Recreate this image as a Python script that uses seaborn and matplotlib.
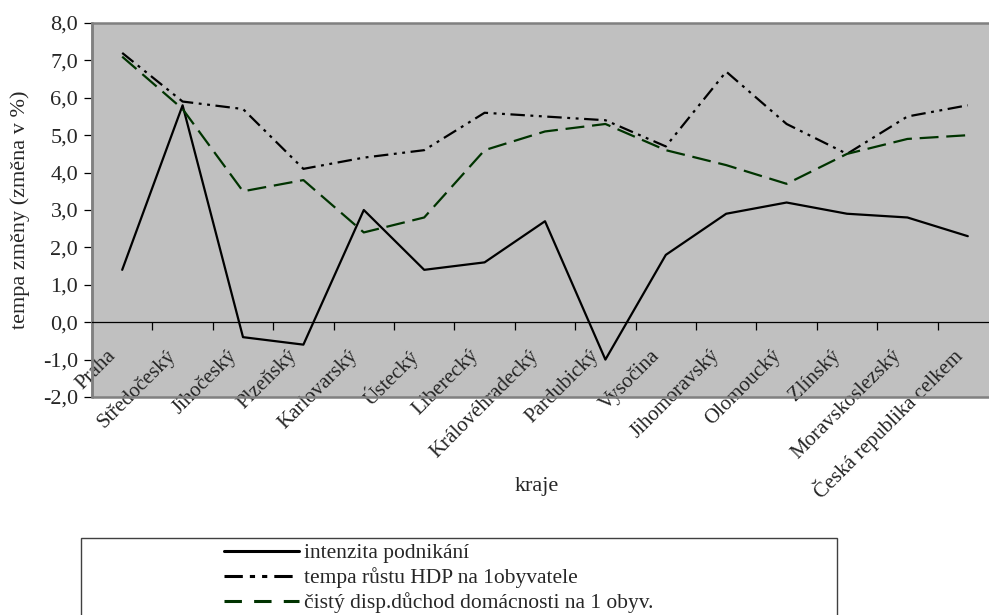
import matplotlib
matplotlib.use("Agg")
import matplotlib.pyplot as plt
from matplotlib.lines import Line2D
from matplotlib.patches import Rectangle
from matplotlib.transforms import ScaledTranslation
from matplotlib.ticker import FixedLocator, FuncFormatter
import numpy as np
import pandas as pd
import seaborn as sns

kraje = ["Praha", "Středočeský", "Jihočeský", "Plzeňský", "Karlovarský",
         "Ústecký", "Liberecký", "Královéhradecký", "Pardubický", "Vysočina",
         "Jihomoravský", "Olomoucký", "Zlínský", "Moravskoslezský",
         "Česká republika celkem"]

intenzita = [1.4, 5.8, -0.4, -0.6, 3.0, 1.4, 1.6, 2.7, -1.0, 1.8,
             2.9, 3.2, 2.9, 2.8, 2.3]
hdp = [7.2, 5.9, 5.7, 4.1, 4.4, 4.6, 5.6, 5.5, 5.4, 4.7,
       6.7, 5.3, 4.5, 5.5, 5.8]
duchod = [7.1, 5.7, 3.5, 3.8, 2.4, 2.8, 4.6, 5.1, 5.3, 4.6,
          4.2, 3.7, 4.5, 4.9, 5.0]

series_names = ["intenzita podnikání",
                "tempa růstu HDP na 1obyvatele",
                "čistý disp.důchod domácnosti na 1 obyv."]

y_ticks = [-2, -1, 0, 1, 2, 3, 4, 5, 6, 7, 8]

FS = 16
FS_X = 15
FS_LEG = 15.5

sns.set_style("ticks")
plt.rcParams["font.family"] = ["Liberation Serif", "DejaVu Serif"]
plt.rcParams["font.size"] = FS

df = pd.DataFrame({
    "kraj": np.tile(np.arange(len(kraje)), 3),
    "hodnota": intenzita + hdp + duchod,
    "ukazatel": np.repeat(series_names, len(kraje)),
})

W, H = 989, 615
fig = plt.figure(figsize=(W / 100, H / 100), dpi=100)
x0, x1, y0, y1 = 92, 998, 23, 397
ax = fig.add_axes([x0 / W, 1 - y1 / H, (x1 - x0) / W, (y1 - y0) / H])
ax.set_facecolor("#c0c0c0")

palette = {series_names[0]: "black", series_names[1]: "black",
           series_names[2]: "#003300"}
dashes = {series_names[0]: "",
          series_names[1]: (6.5, 2.5, 1.3, 2.5, 1.3, 2.5),
          series_names[2]: (8.5, 3.5)}

sns.lineplot(data=df, x="kraj", y="hodnota", hue="ukazatel", style="ukazatel",
             palette=palette, dashes=dashes, linewidth=1.6, legend=False,
             ax=ax, sort=False)

ax.set_xlim(-0.5, len(kraje) - 0.5)
ax.set_ylim(-2, 8)

# frame around the plotting area
for side in ("top", "right"):
    ax.spines[side].set_visible(False)
ax.spines["left"].set_color("#808080")
ax.spines["left"].set_linewidth(1.8)
ax.add_patch(Rectangle((0, 0), 1, 1, transform=ax.transAxes, fill=False,
                       edgecolor="#808080", linewidth=1.8, clip_on=False,
                       zorder=3))

# category axis crossing at zero
ax.spines["bottom"].set_position(("data", 0))
ax.spines["bottom"].set_color("black")
ax.spines["bottom"].set_linewidth(0.9)
ax.spines["bottom"].set_zorder(4)

ax.yaxis.set_major_locator(FixedLocator(y_ticks))
ax.yaxis.set_major_formatter(FuncFormatter(lambda v, p: f"{v:.1f}".replace(".", ",")))
ax.tick_params(axis="y", direction="out", length=5.5, width=0.9, pad=4.5,
               labelsize=FS, color="black")

ax.set_xticks(np.arange(len(kraje)))
ax.set_xticklabels(kraje, rotation=45, ha="right", va="center",
                   rotation_mode="anchor")
ax.set_xticks(np.arange(len(kraje) - 1) + 0.5, minor=True)
ax.tick_params(axis="x", which="major", length=0, pad=22, labelsize=FS_X)
ax.tick_params(axis="x", which="minor", direction="out", length=5.5, width=0.9,
               color="black")
shift = ScaledTranslation(-9 / 100, 0, fig.dpi_scale_trans)
for lab in ax.get_xticklabels():
    lab.set_transform(lab.get_transform() + shift)

ax.set_xlabel("")
ax.set_ylabel("")
fig.text(20 / W, 1 - 210 / H, "tempa změny (změna v %)", rotation=90,
         ha="center", va="center", fontsize=FS)
fig.text(537 / W, 1 - 486 / H, "kraje", ha="center", va="center",
         fontsize=FS)

# legend box
fig.patches.append(Rectangle((81 / W, -0.02), (837 - 81) / W, (615 - 538) / H + 0.02,
                             transform=fig.transFigure, fill=False,
                             edgecolor="#404040", linewidth=1.0))
handles = [
    Line2D([], [], color="black", linewidth=2.2),
    Line2D([], [], color="black", linewidth=2.2,
           dashes=(6, 2.3, 1.7, 2.3, 1.7, 2.3)),
    Line2D([], [], color="#003300", linewidth=2.2, dashes=(5.7, 4)),
]
fig.legend(handles, series_names, loc="upper left",
           bbox_to_anchor=(224 / W, 1 - 543 / H), frameon=False,
           fontsize=FS_LEG, handlelength=3.5, handletextpad=0.22,
           borderpad=0, borderaxespad=0, labelspacing=0.2)

fig.savefig("out.png", dpi=100)
